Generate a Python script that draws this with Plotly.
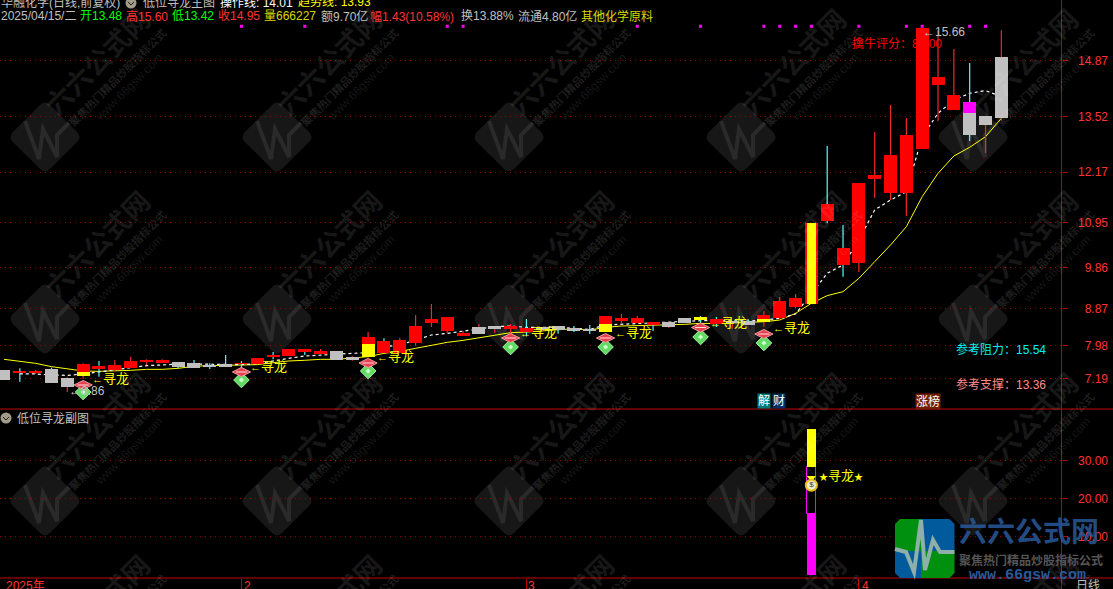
import plotly.graph_objects as go

W, H = 1113, 589

# bars are numbered from the left edge of the screen
body_top = [7.394, 7.354, 7.346, 7.418, 7.201, 7.539, 7.499, 7.515, 7.612, 7.636, 7.636, 7.587, 7.563, 7.491, 7.539, 7.563,
            7.684, 7.756, 7.901, 7.901, 7.853, 7.853, 7.708, 8.191, 8.094, 8.118, 8.456, 8.626, 8.674, 8.287, 8.432, 8.456,
            8.456, 8.408, 8.432, 8.456, 8.408, 8.384, 8.698, 8.65, 8.65, 8.553, 8.553, 8.65, 8.674, 8.626, 8.577, 8.577,
            8.722, 9.06, 9.133, 10.945, 11.404, 10.341, 11.911, 12.105, 12.588, 13.071, 15.655, 14.472, 14.037, 13.868, 13.53, 14.95]
body_bot = [7.153, 7.322, 7.322, 7.088, 6.984, 7.249, 7.418, 7.394, 7.442, 7.587, 7.555, 7.467, 7.442, 7.467, 7.467, 7.539,
            7.539, 7.708, 7.732, 7.829, 7.781, 7.636, 7.636, 7.708, 7.796, 7.796, 8.046, 8.529, 8.336, 8.239, 8.263, 8.384,
            8.408, 8.311, 8.36, 8.36, 8.36, 8.352, 8.311, 8.577, 8.529, 8.481, 8.432, 8.529, 8.6, 8.505, 8.52, 8.481,
            8.553, 8.65, 8.92, 8.99, 10.993, 9.93, 9.979, 12.008, 11.67, 11.67, 12.733, 14.278, 13.675, 13.071, 13.312, 13.48]
highs = [7.394, 7.435, 7.394, 7.45, 7.22, 7.56, 7.612, 7.636, 7.716, 7.652, 7.652, 7.587, 7.636, 7.555, 7.756, 7.612,
         7.684, 7.829, 7.901, 7.901, 7.901, 7.853, 7.732, 8.312, 8.159, 8.175, 8.722, 8.988, 8.674, 8.336, 8.505, 8.456,
         8.505, 8.626, 8.432, 8.456, 8.456, 8.481, 8.698, 8.746, 8.698, 8.553, 8.553, 8.65, 8.698, 8.674, 8.577, 8.626,
         8.819, 9.157, 9.23, 10.945, 12.805, 10.897, 11.911, 13.143, 13.795, 13.481, 15.66, 15.6, 15.148, 14.81, 13.53, 15.6]
lows = [7.153, 7.112, 7.298, 7.088, 6.86, 7.185, 7.233, 7.378, 7.442, 7.515, 7.555, 7.435, 7.442, 7.418, 7.467, 7.354,
        7.539, 7.652, 7.732, 7.756, 7.781, 7.636, 7.62, 7.7, 7.796, 7.796, 7.98, 8.432, 8.279, 8.239, 8.263, 8.287,
        8.263, 8.207, 8.33, 8.271, 8.311, 8.263, 8.311, 8.505, 8.529, 8.336, 8.408, 8.529, 8.48, 8.432, 8.384, 8.481,
        8.44, 8.626, 8.891, 8.99, 10.937, 9.649, 9.762, 11.549, 11.5, 11.114, 12.733, 13.409, 13.675, 12.926, 12.636, 13.42]

grey_bars = [0, 3, 4, 11, 12, 13, 14, 21, 22, 30, 31, 34, 35, 36, 37, 42, 43, 46, 47, 61, 62, 63]
cyan_wicks = [1, 3, 6, 11, 12, 13, 14, 15, 17, 19, 24, 33, 35, 36, 37, 41, 44, 45, 47, 52, 53, 61]

# yellow and magenta parts painted over some bodies
yellow_idx = [5, 23, 38, 44, 48]
yellow_top = [7.346, 8.022, 8.505, 8.674, 8.626]
yellow_bot = [7.249, 7.708, 8.311, 8.6, 8.553]
spike_idx = [51]
spike_top = [10.945]
spike_bot = [8.99]
magenta_idx = [61]
magenta_top = [13.868]
magenta_bot = [13.602]

trend_line = [7.652, 7.612, 7.555, 7.475, 7.418, 7.37, 7.362, 7.37, 7.386, 7.41, 7.41, 7.434, 7.483, 7.499, 7.507, 7.523,
              7.523, 7.571, 7.612, 7.628, 7.652, 7.652, 7.684, 7.716, 7.796, 7.845, 7.917, 7.998, 8.062, 8.11, 8.167, 8.223,
              8.295, 8.311, 8.336, 8.376, 8.392, 8.36, 8.424, 8.456, 8.464, 8.48, 8.489, 8.497, 8.521, 8.513, 8.529, 8.545,
              8.561, 8.601, 8.762, 9.005, 9.19, 9.286, 9.608, 10.011, 10.414, 10.856, 11.581, 12.145, 12.563, 12.773, 13.03, 13.473]
oper_line = [None, 7.298, 7.298, 7.273, 7.265, 7.298, 7.346, 7.394, 7.45, 7.499, 7.515, 7.539, 7.539, 7.539, 7.531, 7.523,
             7.547, 7.62, 7.676, 7.732, 7.756, 7.789, 7.797, 7.813, 7.957, 7.997, 8.118, 8.239, 8.279, 8.336, 8.4, 8.44,
             8.456, 8.424, 8.424, 8.432, 8.4, 8.376, 8.481, 8.497, 8.513, 8.537, 8.561, 8.577, 8.585, 8.585, 8.585, 8.577,
             8.601, 8.642, 8.746, 9.246, 9.73, 9.93, 10.534, 11.26, 11.5, 11.7, 13.03, 13.594, 13.916, 14.077, 14.142, 14.0]

dot_idx = [15, 19, 28, 29, 40, 44, 48, 49, 50, 51, 54, 57, 58, 61, 62]
dot_val = [15.696] * len(dot_idx)

signal_idx = [5, 15, 23, 32, 38, 44, 48]
signal_text_y = [7.18, 7.47, 7.72, 8.31, 8.31, 8.55, 8.43]
gem_red = [7.032, 7.346, 7.563, 8.167, 8.167, 8.42, 8.263]
gem_green = [6.862, 7.152, 7.37, 7.949, 7.949, 8.191, 8.046]

price_ticks = [14.87, 13.52, 12.17, 10.95, 9.86, 8.87, 7.98, 7.19]
sub_ticks = [30, 20, 10]
month_idx = [15, 33, 54]

# lower panel, only one bar has values
sub_idx = [51]
sub_magenta = [15.9]
sub_hollow_top = [28.2]
sub_yellow_top = [38.2]
sub_bag = [23.5]

X_RANGE = [-0.2527, 66.8]
MAIN_RANGE = [6.452, 16.331]
SUB_RANGE = [-0.81, 43.43]
X_END = 1061.5 / W
MAIN_BOTTOM = 1 - 409 / H
SUB_BOTTOM = 1 - 578 / H
CJK = "Liberation Sans, Noto Sans CJK SC"
RED = "#ff0000"
GREY = "#c0c0c0"
CYAN = "#54fcfc"
YELLOW = "#ffff00"
AXIS = "#c00000"
TICK = "#ff3232"
GRID = "#900000"


def px(x):
    return x / W


def py(y):
    return 1 - y / H


def pt(x, y):
    return f"{px(x):.5f},{py(y):.5f}"


def path(points, close=True):
    s = "M " + " L ".join(pt(x, y) for x, y in points)
    return s + (" Z" if close else "")


def rounded(points, c):
    # closed polygon whose corners are cut with a small curve
    n = len(points)
    s = ""
    for k, (x, y) in enumerate(points):
        ax, ay = points[k - 1]
        bx, by = points[(k + 1) % n]
        la = ((ax - x) ** 2 + (ay - y) ** 2) ** 0.5
        lb = ((bx - x) ** 2 + (by - y) ** 2) ** 0.5
        p0 = pt(x + (ax - x) * c / la, y + (ay - y) * c / la)
        p1 = pt(x + (bx - x) * c / lb, y + (by - y) * c / lb)
        s += ("M " if k == 0 else "L ") + p0 + f" Q {pt(x, y)} {p1} "
    return s + "Z"


fig = go.Figure()

# lines sit on the base axes so that the candle bodies cover them
idx = list(range(len(body_top)))
fig.add_trace(go.Scatter(x=idx, y=trend_line, mode="lines", line=dict(color=YELLOW, width=1), xaxis="x", yaxis="y"))
fig.add_trace(go.Scatter(x=idx, y=oper_line, mode="lines", line=dict(color="#ffffff", width=1.2, dash="3px,3px"),
                         xaxis="x", yaxis="y"))


def add_bodies(xs, tops, bots, color, width=0.82):
    fig.add_trace(go.Bar(x=xs, y=[t - b for t, b in zip(tops, bots)], base=bots, width=width,
                         marker=dict(color=color, line=dict(width=0)), xaxis="x", yaxis="y3"))


red_bars = [i for i in idx if i not in grey_bars]
add_bodies(red_bars, [body_top[i] for i in red_bars], [body_bot[i] for i in red_bars], RED)
add_bodies(grey_bars, [body_top[i] for i in grey_bars], [body_bot[i] for i in grey_bars], GREY)
add_bodies(yellow_idx, yellow_top, yellow_bot, YELLOW)
add_bodies(spike_idx, spike_top, spike_bot, YELLOW, width=0.55)
add_bodies(magenta_idx, magenta_top, magenta_bot, "#ff00ff")


def wick_segments(bars):
    xs, ys = [], []
    for i in bars:
        if highs[i] > body_top[i]:
            xs += [i, i, None]
            ys += [body_top[i], highs[i], None]
        if lows[i] < body_bot[i]:
            xs += [i, i, None]
            ys += [body_bot[i], lows[i], None]
    return xs, ys


red_wicks = [i for i in idx if i not in cyan_wicks]
for bars, color in [(red_wicks, "#f02828"), (cyan_wicks, CYAN)]:
    wx, wy = wick_segments(bars)
    fig.add_trace(go.Scatter(x=wx, y=wy, mode="lines", line=dict(color=color, width=1.2), xaxis="x", yaxis="y3"))

fig.add_trace(go.Scatter(x=dot_idx, y=dot_val, mode="markers", marker=dict(symbol="square", size=3, color="#ff00ff"),
                         xaxis="x", yaxis="y3"))

# gem icons under the signal bars
fig.add_trace(go.Scatter(x=signal_idx, y=gem_green, mode="markers",
                         marker=dict(symbol="diamond", size=12, color="#60dc60", line=dict(color="#a8f0a8", width=1)),
                         xaxis="x", yaxis="y3"))
fig.add_trace(go.Scatter(x=signal_idx, y=gem_green, mode="markers",
                         marker=dict(symbol="diamond", size=4, color="#d0ffd0"), xaxis="x", yaxis="y3"))
fig.add_trace(go.Scatter(x=signal_idx, y=gem_red, mode="markers",
                         marker=dict(symbol="diamond-wide", size=13, color="#e84050", line=dict(color="#f0a0a0", width=1)),
                         xaxis="x", yaxis="y3"))
fig.add_trace(go.Scatter(x=signal_idx, y=gem_red, mode="markers",
                         marker=dict(symbol="line-ew", size=8, line=dict(color="#ffe0e0", width=1)), xaxis="x", yaxis="y3"))

# lower panel
fig.add_trace(go.Bar(x=sub_idx, y=sub_magenta, base=[0], width=0.55, marker=dict(color="#ff00ff", line=dict(width=0)),
                     xaxis="x2", yaxis="y2"))
fig.add_trace(go.Bar(x=sub_idx, y=[t - b for t, b in zip(sub_hollow_top, sub_magenta)], base=sub_magenta, width=0.55,
                     marker=dict(color="#000000", line=dict(color="#ff00ff", width=1)), xaxis="x2", yaxis="y4"))
fig.add_trace(go.Bar(x=sub_idx, y=[t - b for t, b in zip(sub_yellow_top, sub_hollow_top)], base=sub_hollow_top, width=0.55,
                     marker=dict(color=YELLOW, line=dict(width=0)), xaxis="x2", yaxis="y4"))
fig.add_trace(go.Scatter(x=sub_idx, y=[v + 1.9 for v in sub_bag], mode="markers",
                         marker=dict(symbol="triangle-down", size=8, color=YELLOW), xaxis="x2", yaxis="y4"))
fig.add_trace(go.Scatter(x=sub_idx, y=sub_bag, mode="markers+text", text=["$"], textposition="middle center",
                         textfont=dict(size=8, color="#404040", family=CJK),
                         marker=dict(symbol="circle", size=11, color="#f0f0d0", line=dict(color="#e8c020", width=2)),
                         xaxis="x2", yaxis="y4"))

shapes = []
annots = []


def text(x, y, s, color=GREY, size=12, anchor="left", bg=None, family=CJK):
    a = dict(x=px(x), y=py(y), xref="paper", yref="paper", text=s, showarrow=False, xanchor=anchor, yanchor="middle",
             font=dict(color=color, size=size, family=family), borderpad=0)
    if bg:
        a["bgcolor"] = bg
    annots.append(a)


def data_text(i, v, s, yref, xshift, color=YELLOW, size=13):
    annots.append(dict(x=i, y=v, xref="x", yref=yref, text=s, showarrow=False, xanchor="left", yanchor="middle",
                       xshift=xshift, font=dict(color=color, size=size, family=CJK), borderpad=0))


# watermark tiles
for cx in [45, 277, 509, 741, 973]:
    for cy in [137, 319, 501, 683]:
        r = 37
        shapes.append(dict(type="path", xref="paper", yref="paper", layer="below", fillcolor="#171717", line=dict(width=0),
                           path=rounded([(cx, cy - r), (cx + r, cy), (cx, cy + r), (cx - r, cy)], 7)))
        shapes.append(dict(type="path", xref="paper", yref="paper", layer="below", line=dict(color="#2a2a2a", width=4),
                           path=path([(cx - 20, cy - 16), (cx - 6, cy + 22), (cx - 2, cy - 8), (cx + 12, cy + 20),
                                      (cx + 12, cy - 2), (cx + 24, cy - 14)], close=False)))
        for dx, dy, s, size, alpha in [(53, -74, "<b>六六公式网</b>", 27, 0.10), (72, -60, "<b>聚焦热门精品炒股指标公式</b>", 11, 0.12),
                                       (84, -50, "www.66gsw.com", 12, 0.10)]:
            annots.append(dict(x=px(cx + dx), y=py(cy + dy), xref="paper", yref="paper", text=s, showarrow=False,
                               textangle=-45, xanchor="center", yanchor="middle", borderpad=0,
                               font=dict(color=f"rgba(255,255,255,{alpha})", size=size, family=CJK)))

# panel frame
frame = [(0, 409, W, 409), (0, 578, W, 578), (1061.5, 0, 1061.5, H)]
for x0, y0, x1, y1 in frame:
    shapes.append(dict(type="line", xref="paper", yref="paper", x0=px(x0), y0=py(y0), x1=px(x1), y1=py(y1),
                       line=dict(color=AXIS, width=1)))

# small round icons in the title rows
for cx, cy in [(131, 3), (6, 418)]:
    shapes.append(dict(type="circle", xref="paper", yref="paper", x0=px(cx - 5.5), x1=px(cx + 5.5), y0=py(cy + 5.5),
                       y1=py(cy - 5.5), fillcolor="#a09c88", line=dict(width=0)))
    shapes.append(dict(type="path", xref="paper", yref="paper", line=dict(color="#202020", width=1),
                       path=path([(cx - 3, cy - 1), (cx, cy + 2), (cx + 3, cy - 1)], close=False)))

# logo in the corner
lx0, lx1, lmx, ly0, ly1, lmy = 895, 954.5, 921, 519, 578, 551
R = 5
for pts, col in [([(lx0 + R, ly0), (lmx, ly0), (lmx, lmy), (lx0, lmy), (lx0, ly0 + R)], "#009010"),
                 ([(lmx, ly0), (lx1 - R, ly0), (lx1, ly0 + R), (lx1, lmy), (lmx, lmy)], "#005a9c"),
                 ([(lx0, lmy), (lmx, lmy), (lmx, ly1), (lx0 + R, ly1), (lx0, ly1 - R)], "#005a9c"),
                 ([(lmx, lmy), (lx1, lmy), (lx1, ly1 - R), (lx1 - R, ly1), (lmx, ly1)], "#009010")]:
    shapes.append(dict(type="path", xref="paper", yref="paper", path=path(pts), fillcolor=col, line=dict(width=0)))
shapes.append(dict(type="path", xref="paper", yref="paper", line=dict(color="#8fb0a8", width=4),
                   path=path([(895, 549), (906, 552), (914, 572), (921, 520), (925, 570), (933, 540), (940, 552), (954.5, 552)],
                             close=False)))

text(958, 532, "<b>六六公式网</b>", "rgba(42,90,156,0.85)", 28)
text(958, 560, "<b>聚焦热门精品炒股指标公式</b>", "#555555", 12)
text(968, 575, "<b>www.66gsw.com</b>", "#2a5a9c", 15, family="Liberation Mono")

# title rows
text(0, 2, "华融化学(日线,前复权)", GREY)
text(142, 2, "低位寻龙主图", GREY)
text(219, 2, "操作线: 14.01", "#ffffff")
text(297, 2, "趋势线: 13.93", YELLOW)
for x, s, col in [(0, "2025/04/15/二", GREY), (79, "开13.48", "#00ff00"), (125, "高15.60", "#ff3232"),
                  (171, "低13.42", "#00ff00"), (217, "收14.95", "#ff3232"), (263, "量666227", "#d8d800"),
                  (320, "额9.70亿", GREY), (369, "幅1.43(10.58%)", "#ff3232"), (460, "换13.88%", GREY),
                  (517, "流通4.80亿", GREY), (580, "其他化学原料", "#d8d800")]:
    text(x, 16, s, col)

text(851, 43, "擒牛评分：80.00", RED)
text(922, 32, "←15.66", GREY)
text(68, 391, "←6.86", GREY)
text(955, 349, "参考阻力：15.54", "#00f0f0")
text(955, 385, "参考支撑：13.36", "#ff8c8c")
text(757, 401, "解", "#ffffff", bg="#007878")
text(772, 401, "财", "#ffffff", bg="#003060")
text(915, 401, "涨榜", "#ffffff", bg="#702000")
text(16, 418, "低位寻龙副图", GREY)
text(5, 586, "2025年", TICK)
text(243, 586, "2", TICK)
text(527, 586, "3", TICK)
text(861, 586, "4", TICK)
text(1075, 586, "日线", GREY)

for i, v in zip(signal_idx, signal_text_y):
    data_text(i, v, "<span style='font-size:11px'>←</span>寻龙", "y3", 8)
data_text(sub_idx[0], 25.9, "<span style='font-size:9px'>★</span>寻龙<span style='font-size:9px'>★</span>", "y4", 7)

fig.update_layout(
    width=W, height=H, margin=dict(l=0, r=0, t=0, b=0, pad=0),
    paper_bgcolor="#000000", plot_bgcolor="rgba(0,0,0,0)",
    showlegend=False, hovermode=False, barmode="overlay", bargap=0,
    shapes=shapes, annotations=annots,
    xaxis=dict(domain=[0, X_END], range=X_RANGE, anchor="y", showgrid=False, zeroline=False,
               showticklabels=False, ticks=""),
    xaxis2=dict(domain=[0, X_END], range=X_RANGE, anchor="y2", showgrid=False, zeroline=False,
                showticklabels=False, ticks="outside", ticklen=11, tickcolor=AXIS, tickmode="array", tickvals=month_idx),
    yaxis=dict(domain=[MAIN_BOTTOM, 1], range=MAIN_RANGE, anchor="x", side="right", tickmode="array",
               tickvals=price_ticks, showticklabels=False, ticks="outside", ticklen=5, tickcolor=AXIS,
               showgrid=True, gridcolor=GRID, griddash="1px,4px", gridwidth=1, zeroline=False),
    yaxis2=dict(domain=[SUB_BOTTOM, MAIN_BOTTOM], range=SUB_RANGE, anchor="x2", side="right", tickmode="array",
                tickvals=sub_ticks, showticklabels=False, ticks="outside", ticklen=5, tickcolor=AXIS,
                showgrid=True, gridcolor=GRID, griddash="1px,4px", gridwidth=1, zeroline=False),
    yaxis3=dict(overlaying="y", range=MAIN_RANGE, anchor="free", position=1108 / W, side="left", tickmode="array",
                tickvals=price_ticks, ticktext=[f"{t:.2f}" for t in price_ticks], ticks="", showgrid=False, zeroline=False,
                tickfont=dict(color=TICK, size=12, family="Liberation Sans")),
    yaxis4=dict(overlaying="y2", range=SUB_RANGE, anchor="free", position=1108 / W, side="left", tickmode="array",
                tickvals=sub_ticks, ticktext=[f"{t:.2f}" for t in sub_ticks], ticks="", showgrid=False, zeroline=False,
                tickfont=dict(color=TICK, size=12, family="Liberation Sans")),
)

fig.write_html("out.html", config={"displayModeBar": False},
               post_script="document.body.style.margin='0';document.body.style.background='#000';")
